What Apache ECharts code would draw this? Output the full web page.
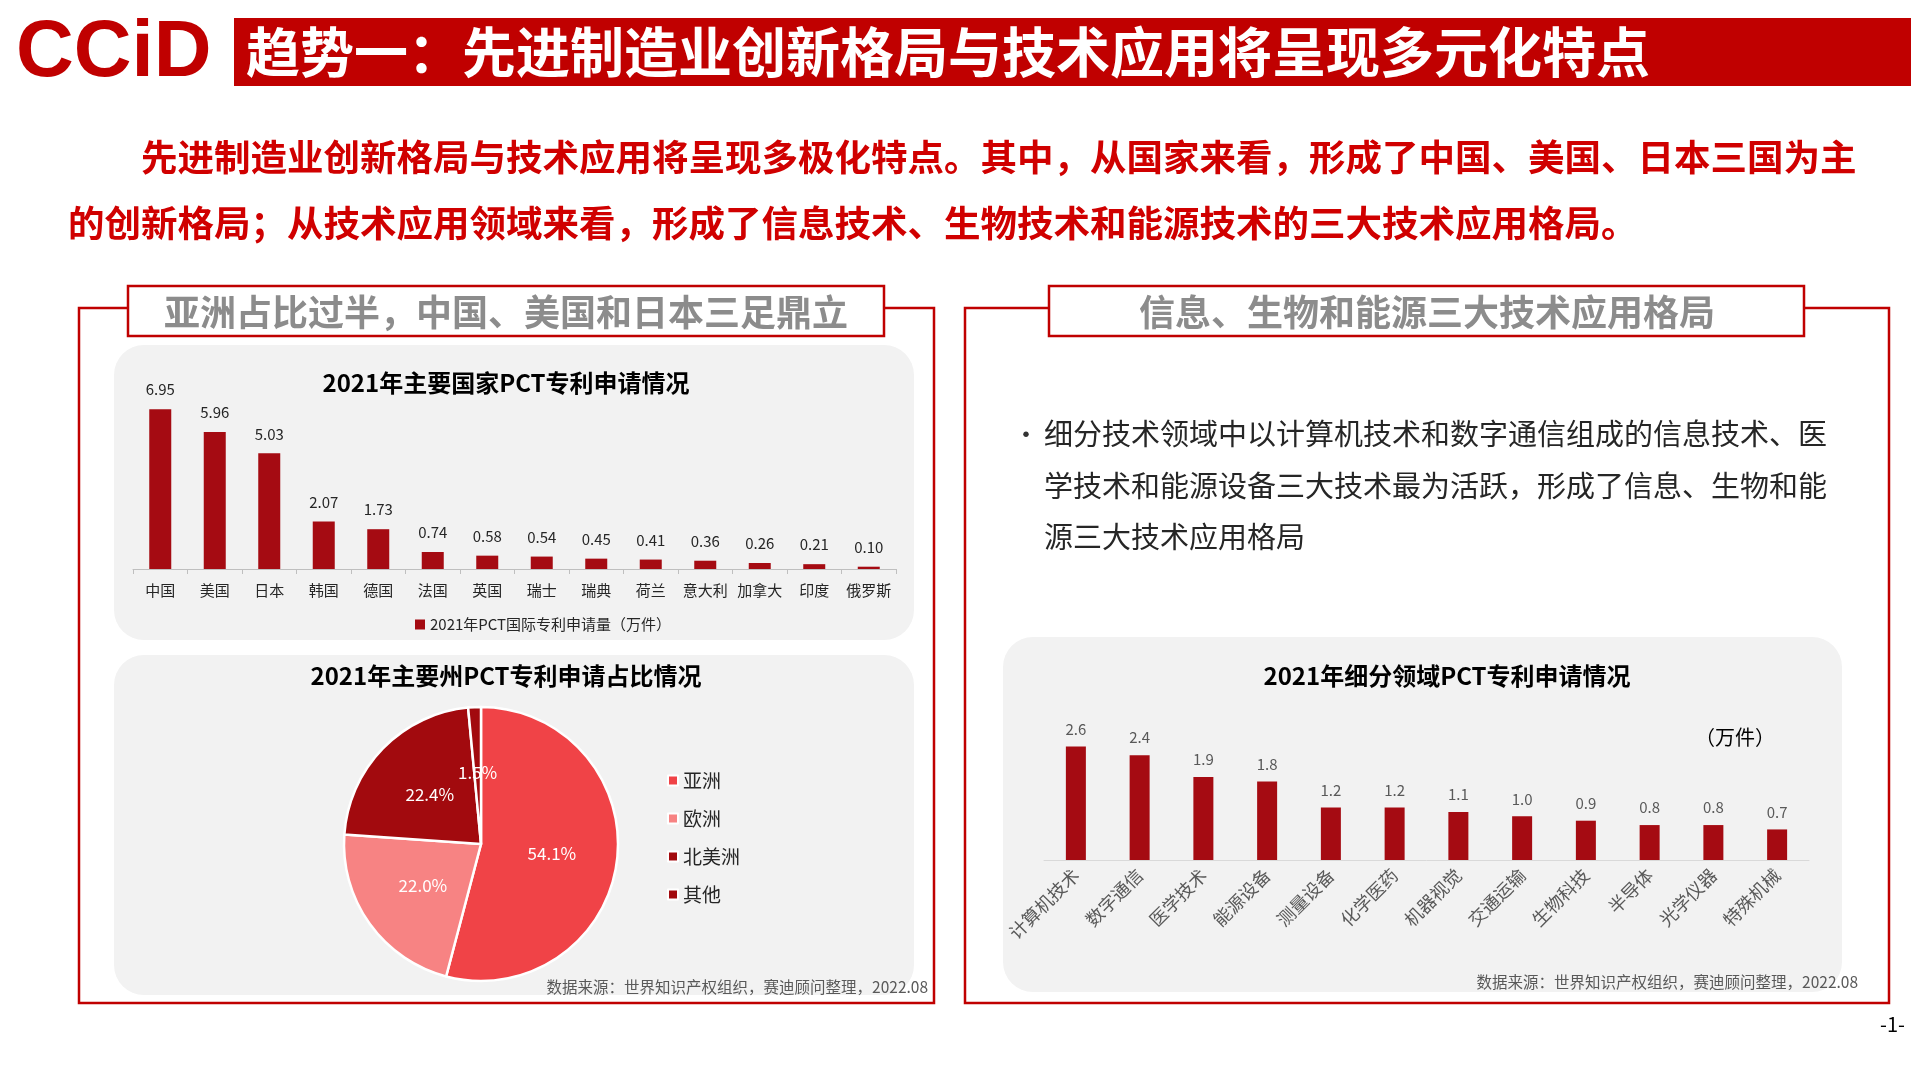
<!DOCTYPE html>
<html><head><meta charset="utf-8">
<script src="https://cdn.jsdelivr.net/npm/echarts@6/dist/echarts.min.js"></script>
<style>html,body{margin:0;padding:0;background:#fff}#c{width:1920px;height:1080px}</style>
</head><body><div id="c"></div>
<script>
const countries=['中国','美国','日本','韩国','德国','法国','英国','瑞士','瑞典','荷兰','意大利','加拿大','印度','俄罗斯'];
const countryVals=[6.95,5.96,5.03,2.07,1.73,0.74,0.58,0.54,0.45,0.41,0.36,0.26,0.21,0.10];
const regions=['亚洲','欧洲','北美洲','其他'];
const regionVals=[54.1,22.0,22.4,1.5];
const fields=['计算机技术','数字通信','医学技术','能源设备','测量设备','化学医药','机器视觉','交通运输','生物科技','半导体','光学仪器','特殊机械'];
const fieldVals=[2.6,2.4,1.9,1.8,1.2,1.2,1.1,1.0,0.9,0.8,0.8,0.7];
const F='"Noto Sans CJK SC","Noto Sans",sans-serif';
const RED='#c00000', BAR='#a50b12';
const ch=echarts.init(document.getElementById('c'));
const graphic=[
 {type:'rect',shape:{x:234,y:18,width:1677,height:68},style:{fill:RED}},
 {type:'text',x:246,y:52,style:{text:'趋势一：先进制造业创新格局与技术应用将呈现多元化特点',fill:'#fff',fontSize:54,fontWeight:'bold',fontFamily:F,verticalAlign:'middle'}},
 {type:'text',x:16,y:54,style:{text:'CCiD',fill:RED,fontSize:80,fontWeight:'bold',fontFamily:'"Liberation Sans",sans-serif',verticalAlign:'middle'}},
 {type:'text',x:141,y:157,style:{text:'先进制造业创新格局与技术应用将呈现多极化特点。其中，从国家来看，形成了中国、美国、日本三国为主',fill:'#d00000',fontSize:36.5,fontWeight:'bold',fontFamily:F,verticalAlign:'middle'}},
 {type:'text',x:68,y:223,style:{text:'的创新格局；从技术应用领域来看，形成了信息技术、生物技术和能源技术的三大技术应用格局。',fill:'#d00000',fontSize:36.5,fontWeight:'bold',fontFamily:F,verticalAlign:'middle'}},
 {type:'rect',shape:{x:79,y:308,width:855,height:695},style:{fill:'none',stroke:RED,lineWidth:2.5}},
 {type:'rect',shape:{x:965,y:308,width:924,height:695},style:{fill:'none',stroke:RED,lineWidth:2.5}},
 {type:'rect',shape:{x:128,y:286,width:756,height:50},style:{fill:'#fff',stroke:RED,lineWidth:2.5}},
 {type:'rect',shape:{x:1049,y:286,width:755,height:50},style:{fill:'#fff',stroke:RED,lineWidth:2.5}},
 {type:'text',x:506,y:312,style:{text:'亚洲占比过半，中国、美国和日本三足鼎立',fill:'#8c8c8c',fontSize:36,fontWeight:'bold',fontFamily:F,align:'center',verticalAlign:'middle'}},
 {type:'text',x:1427,y:312,style:{text:'信息、生物和能源三大技术应用格局',fill:'#8c8c8c',fontSize:36,fontWeight:'bold',fontFamily:F,align:'center',verticalAlign:'middle'}},
 {type:'rect',z:-1,shape:{x:114,y:345,width:800,height:295,r:30},style:{fill:'#f2f2f2'}},
 {type:'rect',z:-1,shape:{x:114,y:655,width:800,height:340,r:30},style:{fill:'#f2f2f2'}},
 {type:'rect',z:-1,shape:{x:1003,y:637,width:839,height:355,r:30},style:{fill:'#f2f2f2'}},
 {type:'text',x:506,y:383,style:{text:'2021年主要国家PCT专利申请情况',fill:'#000',fontSize:24,fontWeight:'bold',fontFamily:F,align:'center',verticalAlign:'middle'}},
 {type:'text',x:506,y:676,style:{text:'2021年主要州PCT专利申请占比情况',fill:'#000',fontSize:24,fontWeight:'bold',fontFamily:F,align:'center',verticalAlign:'middle'}},
 {type:'text',x:1447,y:676,style:{text:'2021年细分领域PCT专利申请情况',fill:'#000',fontSize:24,fontWeight:'bold',fontFamily:F,align:'center',verticalAlign:'middle'}},
 {type:'text',x:928,y:987,style:{text:'数据来源：世界知识产权组织，赛迪顾问整理，2022.08',fill:'#595959',fontSize:15.5,fontFamily:F,align:'right',verticalAlign:'middle'}},
 {type:'text',x:1858,y:982,style:{text:'数据来源：世界知识产权组织，赛迪顾问整理，2022.08',fill:'#595959',fontSize:15.5,fontFamily:F,align:'right',verticalAlign:'middle'}},
 {type:'text',x:1735,y:737,style:{text:'（万件）',fill:'#000',fontSize:20,fontFamily:F,align:'center',verticalAlign:'middle'}},
 {type:'text',x:1013,y:434,style:{text:'•',fill:'#333',fontSize:26,fontFamily:F,verticalAlign:'middle'}},
 {type:'text',x:1044,y:434,style:{text:'细分技术领域中以计算机技术和数字通信组成的信息技术、医',fill:'#262626',fontSize:29,fontFamily:F,verticalAlign:'middle'}},
 {type:'text',x:1044,y:486,style:{text:'学技术和能源设备三大技术最为活跃，形成了信息、生物和能',fill:'#262626',fontSize:29,fontFamily:F,verticalAlign:'middle'}},
 {type:'text',x:1044,y:537,style:{text:'源三大技术应用格局',fill:'#262626',fontSize:29,fontFamily:F,verticalAlign:'middle'}},
 {type:'text',x:1905,y:1024,style:{text:'-1-',fill:'#000',fontSize:20,fontFamily:F,align:'right',verticalAlign:'middle'}}
];
ch.setOption({
 animation:false,
 textStyle:{fontFamily:F},
 graphic:graphic,
 legend:[
  {data:['2021年PCT国际专利申请量（万件）'],left:410,top:612,itemWidth:10,itemHeight:10,icon:'rect',textStyle:{fontSize:15,color:'#262626'},itemGap:4},
  {data:regions,orient:'vertical',left:662,top:766,itemWidth:10,itemHeight:10,icon:'rect',itemGap:19,textStyle:{fontSize:19,color:'#262626'}}
 ],
 grid:[
  {left:133,width:763,top:408,height:161},
  {left:1044,width:765,top:729,height:131}
 ],
 xAxis:[
  {gridIndex:0,type:'category',data:countries,axisLine:{lineStyle:{color:'#bfbfbf'}},axisTick:{show:true,lineStyle:{color:'#bfbfbf'}},axisLabel:{color:'#262626',fontSize:15,margin:14,interval:0}},
  {gridIndex:1,type:'category',data:fields,axisLine:{lineStyle:{color:'#d9d9d9'}},axisTick:{show:false},axisLabel:{color:'#595959',fontSize:18,rotate:45,margin:12,interval:0}}
 ],
 yAxis:[
  {gridIndex:0,type:'value',min:0,max:7,show:false},
  {gridIndex:1,type:'value',min:0,max:3,show:false}
 ],
 series:[
  {name:'2021年PCT国际专利申请量（万件）',type:'bar',xAxisIndex:0,yAxisIndex:0,data:countryVals,barWidth:22,itemStyle:{color:BAR},
   label:{show:true,position:'top',distance:12,fontSize:15,color:'#262626',formatter:p=>p.value.toFixed(2)}},
  {type:'bar',xAxisIndex:1,yAxisIndex:1,data:fieldVals,barWidth:20,itemStyle:{color:BAR},
   label:{show:true,position:'top',distance:10,fontSize:15,color:'#595959',formatter:p=>p.value.toFixed(1)}},
  {type:'pie',center:[481,844],radius:[0,137],startAngle:90,clockwise:true,
   data:regions.map((n,i)=>({name:n,value:regionVals[i]})),
   color:['#f04347','#f78383','#a20a0e','#a20a0e'],
   itemStyle:{borderColor:'#fff',borderWidth:2.5},
   label:{show:true,position:'inside',color:'#fff',fontSize:17,formatter:p=>p.value.toFixed(1)+'%'},
   labelLine:{show:false}}
 ]
});
</script></body></html>
